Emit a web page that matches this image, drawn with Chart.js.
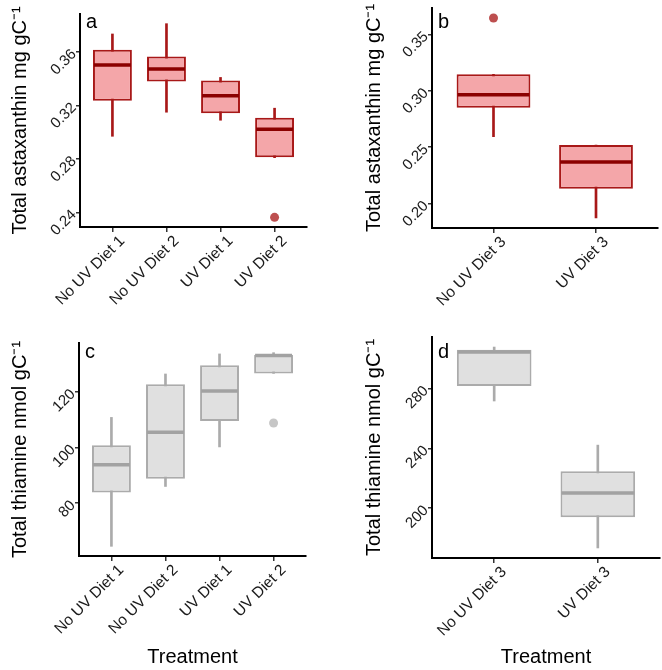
<!DOCTYPE html>
<html>
<head>
<meta charset="utf-8">
<script src="https://cdn.jsdelivr.net/npm/chart.js@4.4.0/dist/chart.umd.min.js"></script>
<style>
  body { margin: 0; background: #fff; }
  #fig { position: relative; width: 662px; height: 670px; }
  canvas { position: absolute; }
</style>
</head>
<body>
<div id="fig">
  <canvas id="panelA" width="331" height="330" style="left:0;top:0"></canvas>
  <canvas id="panelB" width="331" height="330" style="left:331px;top:0"></canvas>
  <canvas id="panelC" width="331" height="340" style="left:0;top:330px"></canvas>
  <canvas id="panelD" width="331" height="340" style="left:331px;top:330px"></canvas>
</div>
<script>
// Datos (cajas: minimo, Q1, mediana, Q3, maximo de bigotes)
const tratamientos14 = ['No UV Diet 1', 'No UV Diet 2', 'UV Diet 1', 'UV Diet 2'];
const tratamientos3 = ['No UV Diet 3', 'UV Diet 3'];

// a: astaxantina, dietas 1 y 2
const astaMinA = [0.297, 0.315, 0.309, 0.281];
const astaQ1A = [0.3235, 0.338, 0.3143, 0.2813];
const astaMedA = [0.3503, 0.3473, 0.3273, 0.3023];
const astaQ3A = [0.3617, 0.3567, 0.3387, 0.3108];
const astaMaxA = [0.3735, 0.3812, 0.341, 0.318];
const astaOutCatA = [3];
const astaOutValA = [0.2364];
const ticksA = [0.24, 0.28, 0.32, 0.36];

// b: astaxantina, dieta 3
const astaMinB = [0.2594, 0.1873];
const astaQ1B = [0.285, 0.2132];
const astaMedB = [0.2965, 0.237];
const astaQ3B = [0.3147, 0.252];
const astaMaxB = [0.3147, 0.252];
const astaOutCatB = [0];
const astaOutValB = [0.3645];
const ticksB = [0.20, 0.25, 0.30, 0.35];

// c: tiamina, dietas 1 y 2
const tiaMinC = [64.5, 86.0, 100.2, 126.6];
const tiaQ1C = [83.85, 88.8, 109.5, 126.6];
const tiaMedC = [93.8, 105.5, 120.25, 133.0];
const tiaQ3C = [100.8, 122.7, 129.5, 133.2];
const tiaMaxC = [110.8, 126.4, 133.6, 134.05];
const tiaOutCatC = [3];
const tiaOutValC = [108.8];
const ticksC = [80, 100, 120];

// d: tiamina, dieta 3
const tiaMinD = [271.7, 173.4];
const tiaQ1D = [281.8, 194.0];
const tiaMedD = [304.5, 210.1];
const tiaQ3D = [306.0, 224.7];
const tiaMaxD = [307.8, 242.2];
const tiaOutCatD = [];
const tiaOutValD = [];
const ticksD = [200, 240, 280];

Chart.defaults.font.family = '"Liberation Sans", Arial, Helvetica, sans-serif';
Chart.defaults.color = '#1a1a1a';

const rojo = { fill: '#F4A6A9', borde: '#A81818', mediana: '#8B0000', punto: 'rgba(170, 30, 30, 0.78)' };
const gris = { fill: '#E0E0E0', borde: '#ABABAB', mediana: '#A2A2A2', punto: '#C6C6C6' };

// Linea de mediana y letra del panel
const medianaPlugin = {
    id: 'mediana',
    afterDatasetsDraw(chart, args, opts) {
        const meta = chart.getDatasetMeta(1);
        const y = chart.scales.y;
        const ctx = chart.ctx;
        ctx.save();
        ctx.strokeStyle = opts.color;
        ctx.lineWidth = 3.5;
        meta.data.forEach((bar, i) => {
            const py = y.getPixelForValue(opts.values[i]);
            ctx.beginPath();
            ctx.moveTo(bar.x - bar.width / 2 + 1, py);
            ctx.lineTo(bar.x + bar.width / 2 - 1, py);
            ctx.stroke();
        });
        ctx.restore();
    },
    afterDraw(chart, args, opts) {
        const ctx = chart.ctx;
        ctx.save();
        ctx.fillStyle = '#000';
        ctx.font = '20px "Liberation Sans", Arial, sans-serif';
        ctx.textBaseline = 'alphabetic';
        ctx.fillText(opts.letter, chart.chartArea.left + 6, 28);
        ctx.restore();
    }
};

function crearGrafico(id, p) {
    const n = p.labels.length;
    const todos = p.min.concat(p.max, p.outVal);
    const lo = Math.min(...todos), hi = Math.max(...todos);
    const ext = (hi - lo) * 0.05;

    new Chart(document.getElementById(id), {
        type: 'bar',
        data: {
            datasets: [
                {
                    // bigotes
                    data: p.labels.map((l, i) => ({ x: i, y: [p.min[i], p.max[i]] })),
                    backgroundColor: p.col.borde,
                    barThickness: 2,
                    grouped: false,
                    order: 2
                },
                {
                    // cajas Q1-Q3
                    data: p.labels.map((l, i) => ({ x: i, y: [p.q1[i], p.q3[i]] })),
                    backgroundColor: p.col.fill,
                    borderColor: p.col.borde,
                    borderWidth: 2,
                    borderSkipped: false,
                    barPercentage: 0.72,
                    categoryPercentage: 1,
                    grouped: false,
                    order: 1
                },
                {
                    type: 'scatter',
                    data: p.outCat.map((c, i) => ({ x: c, y: p.outVal[i] })),
                    backgroundColor: p.col.punto,
                    borderWidth: 0,
                    pointRadius: 4.5,
                    order: 0
                }
            ]
        },
        options: {
            responsive: false,
            animation: false,
            layout: { padding: p.padding },
            plugins: {
                legend: { display: false },
                tooltip: { enabled: false },
                mediana: { values: p.med, color: p.col.mediana, letter: p.letter }
            },
            scales: {
                x: {
                    type: 'linear',
                    offset: false,
                    min: -0.6,
                    max: n - 0.4,
                    afterBuildTicks: s => { s.ticks = p.labels.map((l, i) => ({ value: i })); },
                    afterFit: s => {
                        s.height = p.xHeight;
                        s.paddingLeft = 0; s.paddingRight = 0; s.paddingTop = 0; s.paddingBottom = 0;
                    },
                    ticks: {
                        autoSkip: false,
                        minRotation: 45,
                        maxRotation: 45,
                        padding: 0,
                        labelOffset: 10,
                        font: { size: 15.5 },
                        callback: v => p.labels[v]
                    },
                    grid: { display: true, offset: false, drawOnChartArea: false, drawTicks: true, tickLength: 5, color: '#333', lineWidth: 1.5 },
                    border: { display: true, color: '#000', width: 2 },
                    title: {
                        display: p.xTitle,
                        text: 'Treatment',
                        font: { size: 20 },
                        color: '#000',
                        padding: { top: 0, bottom: 1 }
                    }
                },
                y: {
                    min: lo - ext,
                    max: hi + ext,
                    afterBuildTicks: s => { s.ticks = p.ticks.map(v => ({ value: v })); },
                    afterFit: s => {
                        s.width = p.yWidth;
                        s.paddingLeft = 0; s.paddingRight = 0; s.paddingTop = 0; s.paddingBottom = 0;
                    },
                    ticks: {
                        minRotation: 45,
                        maxRotation: 45,
                        padding: 2,
                        font: { size: 15 },
                        callback: v => p.dec ? v.toFixed(p.dec) : String(v)
                    },
                    grid: { display: true, drawOnChartArea: false, drawTicks: true, tickLength: 4, color: '#333', lineWidth: 1.5 },
                    border: { display: true, color: '#000', width: 2 },
                    title: {
                        display: true,
                        text: p.yTitle,
                        font: { size: 20 },
                        color: '#000',
                        padding: { top: 0, bottom: 0 }
                    }
                }
            }
        },
        plugins: [medianaPlugin]
    });
}

document.addEventListener('DOMContentLoaded', () => {
    crearGrafico('panelA', {
        labels: tratamientos14, min: astaMinA, q1: astaQ1A, med: astaMedA, q3: astaQ3A, max: astaMaxA,
        outCat: astaOutCatA, outVal: astaOutValA, ticks: ticksA, dec: 2, col: rojo, letter: 'a',
        yTitle: 'Total astaxanthin mg gC⁻¹', xTitle: false,
        padding: { left: 8, top: 14, right: 24, bottom: 0 }, yWidth: 72, xHeight: 103
    });
    crearGrafico('panelB', {
        labels: tratamientos3, min: astaMinB, q1: astaQ1B, med: astaMedB, q3: astaQ3B, max: astaMaxB,
        outCat: astaOutCatB, outVal: astaOutValB, ticks: ticksB, dec: 2, col: rojo, letter: 'b',
        yTitle: 'Total astaxanthin mg gC⁻¹', xTitle: false,
        padding: { left: 31, top: 8, right: 2, bottom: 0 }, yWidth: 70, xHeight: 102
    });
    crearGrafico('panelC', {
        labels: tratamientos14, min: tiaMinC, q1: tiaQ1C, med: tiaMedC, q3: tiaQ3C, max: tiaMaxC,
        outCat: tiaOutCatC, outVal: tiaOutValC, ticks: ticksC, dec: 0, col: gris, letter: 'c',
        yTitle: 'Total thiamine nmol gC⁻¹', xTitle: true,
        padding: { left: 8, top: 13, right: 25, bottom: 0 }, yWidth: 71, xHeight: 114
    });
    crearGrafico('panelD', {
        labels: tratamientos3, min: tiaMinD, q1: tiaQ1D, med: tiaMedD, q3: tiaQ3D, max: tiaMaxD,
        outCat: tiaOutCatD, outVal: tiaOutValD, ticks: ticksD, dec: 0, col: gris, letter: 'd',
        yTitle: 'Total thiamine nmol gC⁻¹', xTitle: true,
        padding: { left: 31, top: 7, right: 2, bottom: 0 }, yWidth: 70, xHeight: 112
    });
});
</script>
</body>
</html>
